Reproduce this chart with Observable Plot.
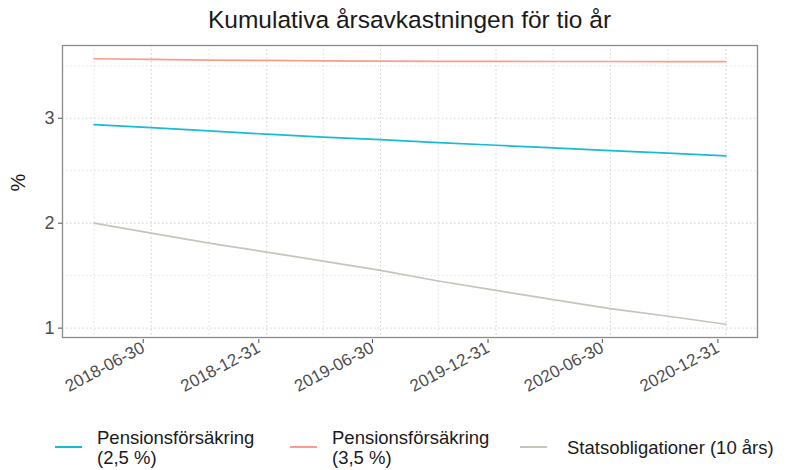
<!DOCTYPE html>
<html>
<head>
<meta charset="utf-8">
<script src="https://cdn.jsdelivr.net/npm/d3@7"></script>
<script src="https://cdn.jsdelivr.net/npm/@observablehq/plot@0.6"></script>
<style>
  body { margin: 0; background: #fff; font-family: "Liberation Sans", Arial, sans-serif; }
  #wrap { position: relative; width: 787px; height: 470px; overflow: hidden; }
  #title { position: absolute; top: 5px; left: 62px; width: 695px; text-align: center; font-size: 24.5px; line-height: 30px; color: #1a1a1a; }
  #chart { position: absolute; top: 0; left: 0; }
  .key { position: absolute; height: 2px; }
  .lab { position: absolute; font-size: 18.5px; line-height: 20px; color: #1a1a1a; white-space: pre; }
</style>
</head>
<body>
<div id="wrap">
  <div id="chart"></div>
  <div id="title">Kumulativa årsavkastningen för tio år</div>
  <div id="legend"></div>
</div>
<script>
// ---- data ----
const dates = ["2018-03-31","2018-06-30","2018-09-30","2018-12-31","2019-03-31","2019-06-30",
               "2019-09-30","2019-12-31","2020-03-31","2020-06-30","2020-09-30","2020-12-31"];
const pension25 = [2.940, 2.911, 2.879, 2.848, 2.820, 2.797, 2.768, 2.743, 2.718, 2.692, 2.667, 2.641];
const pension35 = [3.567, 3.561, 3.555, 3.551, 3.547, 3.544, 3.542, 3.542, 3.541, 3.541, 3.540, 3.540];
const stats10   = [2.000, 1.905, 1.810, 1.724, 1.639, 1.550, 1.449, 1.360, 1.272, 1.186, 1.113, 1.037];
const seriesNames = ["Pensionsförsäkring (2,5 %)", "Pensionsförsäkring (3,5 %)", "Statsobligationer (10 års)"];
const legendLabels = ["Pensionsförsäkring\n(2,5 %)", "Pensionsförsäkring\n(3,5 %)", "Statsobligationer (10 års)"];
const seriesColors = ["#17bcd4", "#fc9c8a", "#c3c6ba"];
const xTicks = ["2018-06-30","2018-12-31","2019-06-30","2019-12-31","2020-06-30","2020-12-31"];
const xMinor = ["2018-03-31","2018-09-30","2019-03-31","2019-09-30","2020-03-31","2020-09-30"];
const yTicks = [1, 2, 3];
const yMinor = [1.5, 2.5, 3.5];
const yLabel = "%";

// ---- build table ----
const seriesValues = [pension25, pension35, stats10];
const table = [];
seriesValues.forEach((vals, i) => vals.forEach((v, j) => table.push({series: seriesNames[i], date: new Date(dates[j]), value: v})));

// ggplot-like 5% expansion
const xExt = d3.extent(table, d => d.date);
const xPad = (xExt[1] - xExt[0]) * 0.05;
const xDomain = [new Date(+xExt[0] - xPad), new Date(+xExt[1] + xPad)];
const yExt = d3.extent(table, d => d.value);
const yPad = (yExt[1] - yExt[0]) * 0.05;
const yDomain = [yExt[0] - yPad, yExt[1] + yPad];

const gridStyle = {stroke: "#cfcfcf", strokeOpacity: 1, strokeWidth: 1, strokeDasharray: "1.5,2.5"};

const chart = Plot.plot({
  width: 787,
  height: 405,
  marginLeft: 62,
  marginRight: 30,
  marginTop: 45,
  marginBottom: 68,
  style: {fontFamily: "'Liberation Sans', Arial, sans-serif", background: "white", overflow: "visible"},
  x: {type: "utc", domain: xDomain},
  y: {domain: yDomain},
  color: {domain: seriesNames, range: seriesColors},
  marks: [
    Plot.gridY(yMinor, {...gridStyle, stroke: "#dedede"}),
    Plot.gridY(yTicks, gridStyle),
    Plot.gridX(xMinor.map(d => new Date(d)), {...gridStyle, stroke: "#dedede"}),
    Plot.gridX(xTicks.map(d => new Date(d)), gridStyle),
    Plot.lineY(table, {x: "date", y: "value", z: "series", stroke: "series", strokeWidth: 1.7}),
    Plot.frame({stroke: "#8a8a8a", strokeWidth: 1.3}),
    Plot.axisY(yTicks, {tickSize: 4, tickPadding: 4, fontSize: 18, color: "#4d4d4d", tickFormat: d => String(d), label: null}),
    Plot.axisX(xTicks.map(d => new Date(d)), {tickSize: 4, tickPadding: 3, tickRotate: -28, fontSize: 17, dx: -8, dy: 2,
      color: "#4d4d4d", tickFormat: d3.utcFormat("%Y-%m-%d"), label: null}),
    Plot.text([yLabel], {text: d => d, frameAnchor: "left", dx: -44, rotate: -90, fontSize: 20, fill: "#1a1a1a"})
  ]
});
document.getElementById("chart").appendChild(chart);

// ---- legend ----
const keyLeft = [55, 290, 520];
const textLeft = [97, 332, 567];
const legend = document.getElementById("legend");
seriesNames.forEach((name, i) => {
  const key = document.createElement("div");
  key.className = "key";
  key.style.left = keyLeft[i] + "px";
  key.style.width = "27px";
  key.style.top = "446px";
  key.style.background = seriesColors[i];
  legend.appendChild(key);
  const lab = document.createElement("div");
  lab.className = "lab";
  lab.style.left = textLeft[i] + "px";
  lab.textContent = legendLabels[i];
  const lines = legendLabels[i].split("\n").length;
  lab.style.top = (448 - lines * 20 / 2) + "px";
  legend.appendChild(lab);
});
</script>
</body>
</html>
